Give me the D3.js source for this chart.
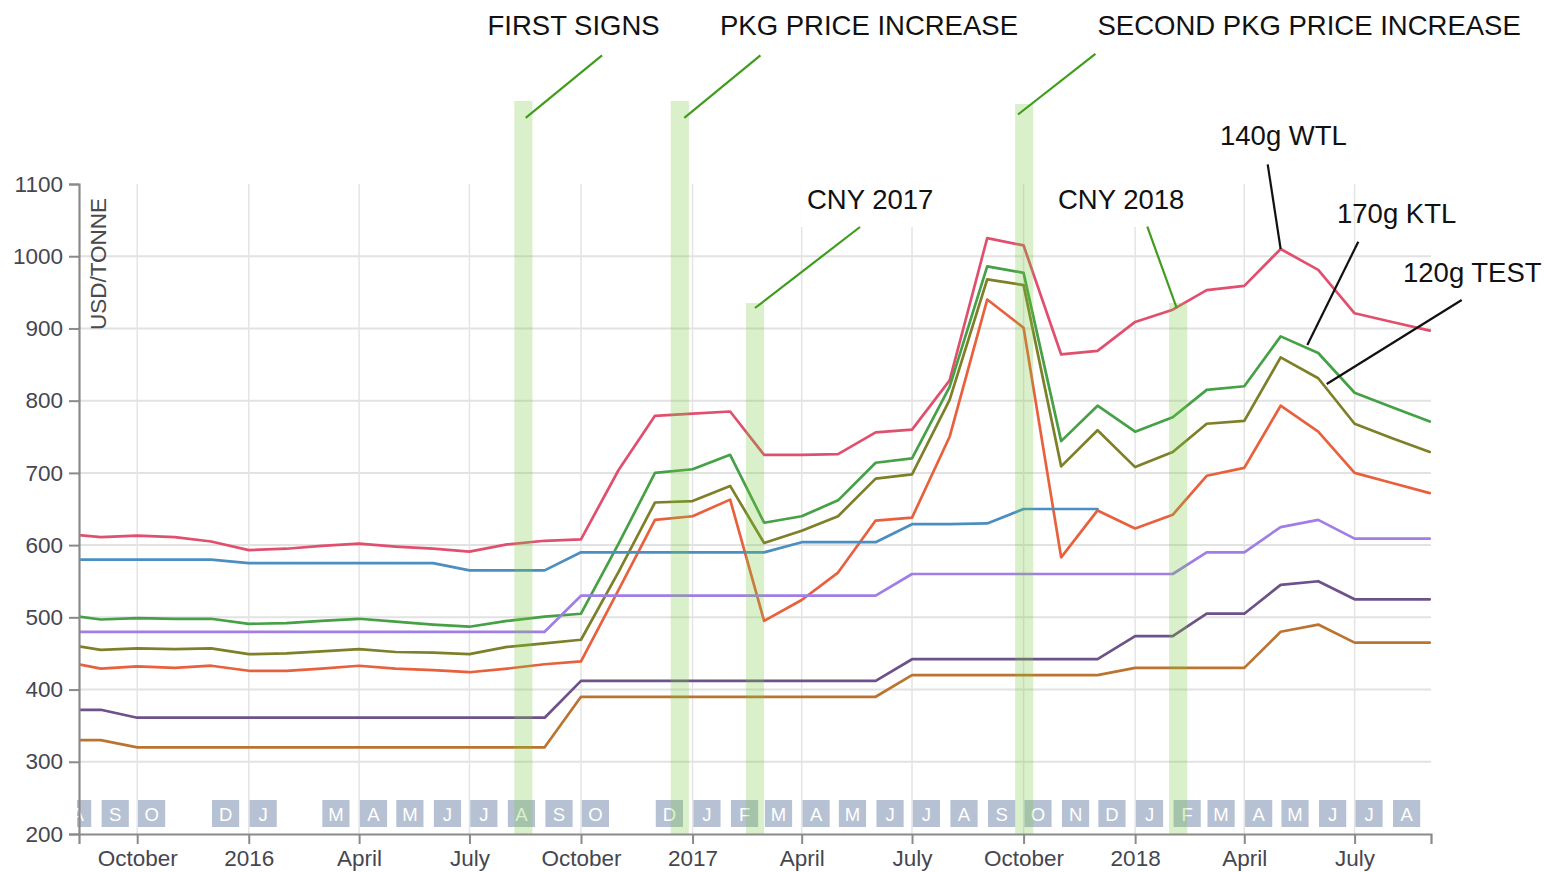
<!DOCTYPE html>
<html><head><meta charset="utf-8">
<script src="https://cdn.jsdelivr.net/npm/d3@7"></script>
<style>
body{margin:0;background:#fff;}
svg{display:block;font-family:"Liberation Sans",Arial,Helvetica,sans-serif;}
</style></head><body>
<svg id="chart" width="1544" height="872"></svg>
<script>
// ---------------- DATA ----------------
const months = ["2015-08","2015-09","2015-10","2015-11","2015-12","2016-01","2016-02","2016-03","2016-04","2016-05","2016-06","2016-07","2016-08","2016-09","2016-10","2016-11","2016-12","2017-01","2017-02","2017-03","2017-04","2017-05","2017-06","2017-07","2017-08","2017-09","2017-10","2017-11","2017-12","2018-01","2018-02","2018-03","2018-04","2018-05","2018-06","2018-07","2018-08","2018-09"];

const wtl140  = [616,611,613,611,605,593,595,599,602,598,595,591,601,606,608,704,779,782,785,725,725,726,756,760,828,1025,1015,864,869,909,926,953,959,1010,981,921,909,897];
const ktl170  = [504,497,499,498,498,491,492,495,498,494,490,487,495,501,505,602,700,705,725,631,640,662,714,720,819,986,977,744,793,757,777,815,820,889,866,811,791,771];
const test120 = [463,455,457,456,457,449,450,453,456,452,451,449,459,464,469,563,659,661,682,603,620,640,692,698,801,968,960,709,759,708,729,768,772,860,831,768,748,729];
const seriesD = [439,429,432,430,433,426,426,429,433,429,427,424,429,435,439,538,635,640,663,495,524,562,634,638,750,940,901,583,648,623,642,696,707,793,757,700,686,672];
const seriesE = [580,580,580,580,580,575,575,575,575,575,575,565,565,565,590,590,590,590,590,590,604,604,604,629,629,630,650,650,650];
const seriesF = [480,480,480,480,480,480,480,480,480,480,480,480,480,480,530,530,530,530,530,530,530,530,530,560,560,560,560,560,560,560,560,590,590,625,635,609,609,609];
const seriesG = [372,372,361,361,361,361,361,361,361,361,361,361,361,361,412,412,412,412,412,412,412,412,412,442,442,442,442,442,442,474,474,505,505,545,550,525,525,525];
const seriesH = [330,330,320,320,320,320,320,320,320,320,320,320,320,320,390,390,390,390,390,390,390,390,390,420,420,420,420,420,420,430,430,430,430,480,490,465,465,465];

const seriesNames  = ["140g WTL","170g KTL","120g TEST","Series D","Series E","Series F","Series G","Series H"];
const seriesValues = [wtl140, ktl170, test120, seriesD, seriesE, seriesF, seriesG, seriesH];

const boxMonths = ["2015-08","2015-09","2015-10","2015-12","2016-01","2016-03","2016-04","2016-05","2016-06","2016-07","2016-08","2016-09","2016-10","2016-12","2017-01","2017-02","2017-03","2017-04","2017-05","2017-06","2017-07","2017-08","2017-09","2017-10","2017-11","2017-12","2018-01","2018-02","2018-03","2018-04","2018-05","2018-06","2018-07","2018-08"];

const yTicks = [200,300,400,500,600,700,800,900,1000,1100];
const yLabel = "USD/TONNE";

const bandLabels = ["FIRST SIGNS","PKG PRICE INCREASE","CNY 2017","SECOND PKG PRICE INCREASE","CNY 2018"];
const bandStarts = ["2016-08-07","2016-12-14","2017-02-14","2017-09-24","2018-01-29"];
const bandEnds   = ["2016-08-22","2016-12-29","2017-03-01","2017-10-09","2018-02-13"];

const calloutNames  = ["140g WTL","170g KTL","120g TEST"];
const calloutDates  = ["2018-05-01","2018-05-23","2018-06-08"];
const calloutValues = [1010, 877, 823];

// ---------------- STYLE / LAYOUT ----------------
const colors = ["#e0506e","#46a046","#7d8028","#e8603c","#4b8ec2","#a07ee6","#6d5188","#bb7430"];
const bandLayout = [
  {top:101, lx:487.5, ly:35, a:[525.7,117.9], b:[602,55.4], bg:false},
  {top:101, lx:720,   ly:35, a:[684.3,117.9], b:[760.4,55.4], bg:false},
  {top:303, lx:807,   ly:209, a:[755,308], b:[860,227], bg:true},
  {top:104, lx:1097.5,ly:35, a:[1018,114.5], b:[1095.4,53.8], bg:false},
  {top:303, lx:1058,  ly:209, a:[1176.7,308], b:[1147.3,226.7], bg:true}
];
const calloutLayout = [
  {lx:1220, ly:145, a:[1267.7,164.3]},
  {lx:1337, ly:223, a:[1358.3,241.7]},
  {lx:1403, ly:282, a:[1461.7,300]}
];

const parseM = d3.timeParse("%Y-%m");
const parseD = d3.timeParse("%Y-%m-%d");

const svg = d3.select("#chart");
svg.append("rect").attr("width",1544).attr("height",872).attr("fill","#fff");

const x = d3.scaleTime().domain([new Date(2015,7,14), new Date(2018,8,2)]).range([79,1431]);
const y = d3.scaleLinear().domain([200,1100]).range([834,184]);
const xTicks = d3.timeMonth.range(new Date(2015,9,1), new Date(2018,8,1), 3);

const defs = svg.append("defs");
defs.append("clipPath").attr("id","plotclip").append("rect")
  .attr("x",79).attr("y",0).attr("width",1352).attr("height",872);
defs.append("clipPath").attr("id","boxclip").append("rect")
  .attr("x",77).attr("y",0).attr("width",1360).attr("height",872);

// gridlines
const grid = svg.append("g");
grid.selectAll("line.h").data(yTicks.filter(v => v > 200 && v < 1100)).join("line")
  .attr("x1",79).attr("x2",1431).attr("y1",d=>y(d)).attr("y2",d=>y(d))
  .attr("stroke","#e2e2e2").attr("stroke-width",2);
grid.selectAll("line.v").data(xTicks).join("line")
  .attr("x1",d=>x(d)).attr("x2",d=>x(d)).attr("y1",184).attr("y2",834)
  .attr("stroke","#e4e4e4").attr("stroke-width",1.5);

// month boxes
const boxes = svg.append("g").attr("clip-path","url(#boxclip)");
const mFmt = d3.timeFormat("%B");
const bg = boxes.selectAll("g").data(boxMonths.map(parseM)).join("g");
bg.append("rect").attr("x",d=>x(d)+0.8).attr("y",800).attr("width",27.2).attr("height",27)
  .attr("fill","#b6c2d3");
bg.append("text").attr("x",d=>x(d)+0.8+13.6).attr("y",820.5).attr("text-anchor","middle")
  .attr("fill","#fff").attr("font-size",18.5).text(d=>mFmt(d)[0]);

// lines
const dates = months.map(parseM);
const line = d3.line().x((d,i)=>x(dates[i])).y(d=>y(d));
const lg = svg.append("g").attr("clip-path","url(#plotclip)");
seriesValues.forEach((vals,i)=>{
  lg.append("path").attr("d",line(vals)).attr("fill","none")
    .attr("stroke",colors[i]).attr("stroke-width",2.7)
    .attr("stroke-linejoin","round").attr("stroke-linecap","round");
});

// bands
const bandG = svg.append("g");
bandLabels.forEach((lab,i)=>{
  const s = parseD(bandStarts[i]), e = parseD(bandEnds[i]);
  bandG.append("rect").attr("x",x(s)).attr("width",x(e)-x(s))
    .attr("y",bandLayout[i].top).attr("height",834-bandLayout[i].top)
    .attr("fill","rgb(120,200,60)").attr("opacity",0.27);
});

// axes
const axG = svg.append("g");
const xAxis = d3.axisBottom(x).tickValues(xTicks).tickSize(10).tickSizeOuter(10).tickPadding(6);
const gx = axG.append("g").attr("transform","translate(0,834)").call(xAxis);
const yAxis = d3.axisLeft(y).tickValues(yTicks).tickSize(10).tickSizeOuter(10).tickPadding(6).tickFormat(d3.format("d"));
const gy = axG.append("g").attr("transform","translate(79,0)").call(yAxis);
[gx,gy].forEach(g=>{
  g.select(".domain").attr("stroke","#8a8a8a").attr("stroke-width",2.2);
  g.selectAll(".tick line").attr("stroke","#8a8a8a").attr("stroke-width",2);
  g.selectAll(".tick text").attr("fill","#45464f").attr("font-size",22.5)
    .attr("font-family","'Liberation Sans',Arial,Helvetica,sans-serif");
});
gx.selectAll(".tick text").attr("dy","0.71em");
svg.append("text").attr("transform","translate(106,198) rotate(-90)")
  .attr("text-anchor","end").attr("font-size",22.5).attr("fill","#4a4a4a").text(yLabel);

// band annotations
const annG = svg.append("g");
bandLabels.forEach((lab,i)=>{
  const L = bandLayout[i];
  const t = annG.append("text").attr("x",L.lx).attr("y",L.ly).attr("font-size",27.5)
    .attr("fill","#111").text(lab);
  if (L.bg) {
    const w = t.node().getComputedTextLength();
    annG.insert("rect","text").attr("x",L.lx-6).attr("y",L.ly-30).attr("width",w+12).attr("height",48)
      .attr("fill","#fff");
  }
  annG.append("line").attr("x1",L.a[0]).attr("y1",L.a[1]).attr("x2",L.b[0]).attr("y2",L.b[1])
    .attr("stroke","#3f9c1c").attr("stroke-width",2.2);
});
annG.selectAll("text").raise();

// callouts
calloutNames.forEach((lab,i)=>{
  const L = calloutLayout[i];
  annG.append("text").attr("x",L.lx).attr("y",L.ly).attr("font-size",27.5).attr("fill","#111").text(lab);
  annG.append("line").attr("x1",L.a[0]).attr("y1",L.a[1])
    .attr("x2",x(parseD(calloutDates[i]))).attr("y2",y(calloutValues[i]))
    .attr("stroke","#111").attr("stroke-width",2.2);
});
</script>
</body></html>
